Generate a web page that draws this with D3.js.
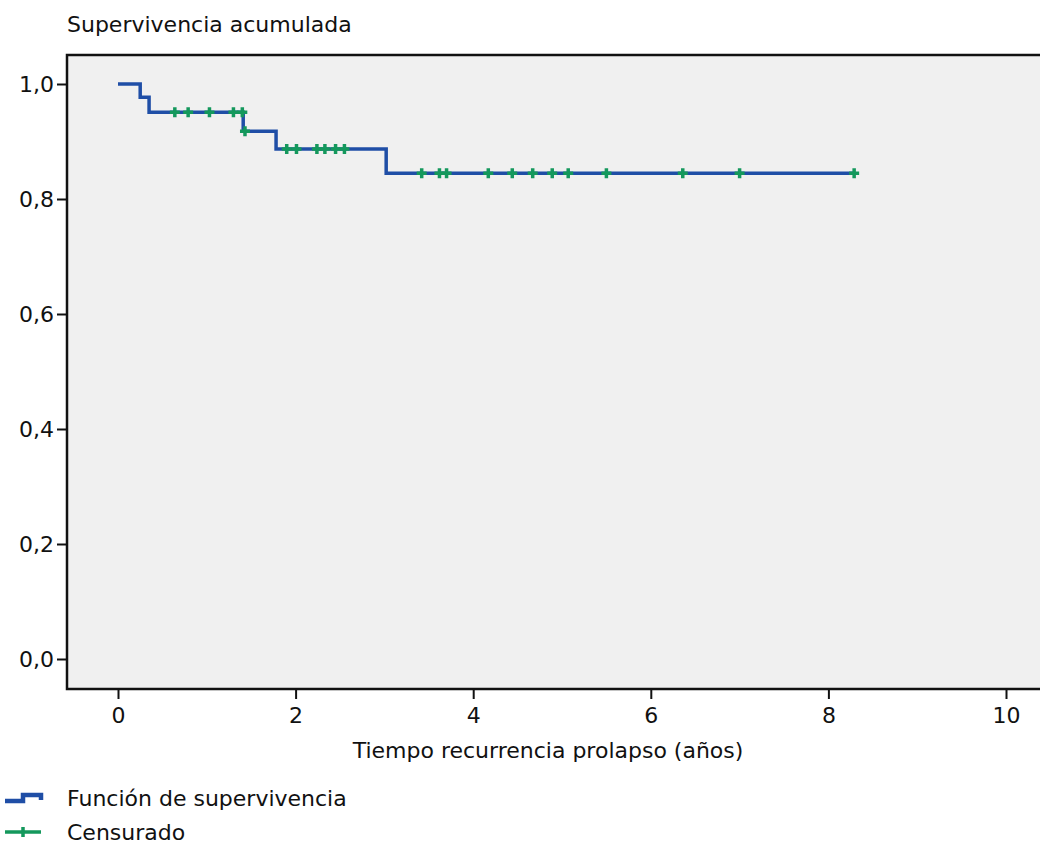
<!DOCTYPE html>
<html>
<head>
<meta charset="utf-8">
<script src="https://cdn.jsdelivr.net/npm/d3@7"></script>
<style>
  body { margin: 0; background: #fff; }
  svg text { font-family: 'DejaVu Sans', Verdana, sans-serif; fill: #111; }
</style>
</head>
<body>
<div class="visual"></div>
<script>
const [width, height] = [1040, 844];

// Kaplan-Meier step function (time of drop, survival after drop)
const step_times = [0.25, 0.35, 1.41, 1.78, 3.02];
const step_surv = [1.0, 0.977, 0.951, 0.918, 0.887, 0.845];
const end_time = 8.29;
const censored_times = [
  0.64, 0.79, 1.03, 1.3, 1.4, 1.43,
  1.9, 2.01, 2.24, 2.33, 2.45, 2.55,
  3.42, 3.62, 3.7, 4.17, 4.44, 4.67, 4.89, 5.07, 5.5, 6.36, 7.0, 8.29,
];
const x_ticks = [0, 2, 4, 6, 8, 10];
const y_ticks = [0, 0.2, 0.4, 0.6, 0.8, 1.0];

const [BLUE, GREEN] = ['#1f4ea6', '#14985c'];
const [Y_TITLE, X_TITLE] = ['Supervivencia acumulada', 'Tiempo recurrencia prolapso (años)'];
const LEGEND = ['Función de supervivencia', 'Censurado'];
const FONT = '22px';

const frame = { left: 67, top: 55, right: 1060, bottom: 689 };

const x_scale = d3.scaleLinear().domain([0, 10]).range([118, 1006]);
const y_scale = d3.scaleLinear().domain([0, 1]).range([659, 84]);

const survAt = (t) => {
  let s = step_surv[0];
  step_times.forEach((st, i) => {
    if (t >= st) s = step_surv[i + 1];
  });
  return s;
};

const svg = d3
  .select('.visual')
  .append('svg')
  .attr('width', width)
  .attr('height', height);

// plot background + frame
svg
  .append('rect')
  .attr('x', frame.left)
  .attr('y', frame.top)
  .attr('width', frame.right - frame.left)
  .attr('height', frame.bottom - frame.top)
  .attr('fill', '#f0f0f0')
  .attr('stroke', '#111')
  .attr('stroke-width', 2.5);

svg
  .append('text')
  .attr('x', 67)
  .attr('y', 32)
  .style('font-size', FONT)
  .text(Y_TITLE);

const x_axis = d3
  .axisBottom(x_scale)
  .tickValues(x_ticks)
  .tickSize(10)
  .tickPadding(8)
  .tickFormat(d3.format('d'));

const y_axis = d3
  .axisLeft(y_scale)
  .tickValues(y_ticks)
  .tickSize(10)
  .tickPadding(3)
  .tickFormat((d) => d.toFixed(1).replace('.', ','));

const gx = svg
  .append('g')
  .attr('transform', `translate(0, ${frame.bottom})`)
  .call(x_axis);
gx.select('.domain').remove();

const gy = svg
  .append('g')
  .attr('transform', `translate(${frame.left}, 0)`)
  .call(y_axis);
gy.select('.domain').remove();

svg.selectAll('.tick line').attr('stroke', '#111').attr('stroke-width', 2);
svg.selectAll('.tick text').style('font-size', FONT).attr('fill', '#111');

svg
  .append('text')
  .attr('x', 548)
  .attr('y', 758)
  .attr('text-anchor', 'middle')
  .style('font-size', FONT)
  .text(X_TITLE);

// survival step line
const pts = [[0, step_surv[0]]];
step_times.forEach((t, i) => {
  pts.push([t, step_surv[i]]);
  pts.push([t, step_surv[i + 1]]);
});
pts.push([end_time, step_surv[step_surv.length - 1]]);

svg
  .append('path')
  .attr(
    'd',
    d3
      .line()
      .x((d) => x_scale(d[0]))
      .y((d) => y_scale(d[1]))(pts)
  )
  .attr('fill', 'none')
  .attr('stroke', BLUE)
  .attr('stroke-width', 3.5);

// censored marks
const plus = (cx, cy, w, h) =>
  `M${cx - w},${cy}H${cx + w}M${cx},${cy - h}V${cy + h}`;

svg
  .selectAll('.cens')
  .data(censored_times)
  .enter()
  .append('path')
  .attr('class', 'cens')
  .attr('d', (t) => plus(x_scale(t), y_scale(survAt(t)), 5, 5))
  .attr('stroke', GREEN)
  .attr('stroke-width', 3.5)
  .attr('fill', 'none');

// legend
const legend = svg.append('g');
legend
  .append('path')
  .attr('d', 'M5,801H23V795H41V800')
  .attr('fill', 'none')
  .attr('stroke', BLUE)
  .attr('stroke-width', 4.5);
legend
  .append('path')
  .attr('d', plus(23, 832, 18, 5))
  .attr('stroke', GREEN)
  .attr('stroke-width', 3.5);
legend
  .selectAll('.leg-text')
  .data(LEGEND)
  .enter()
  .append('text')
  .attr('x', 67)
  .attr('y', (d, i) => 806 + i * 34)
  .style('font-size', FONT)
  .text((d) => d);
</script>
</body>
</html>
